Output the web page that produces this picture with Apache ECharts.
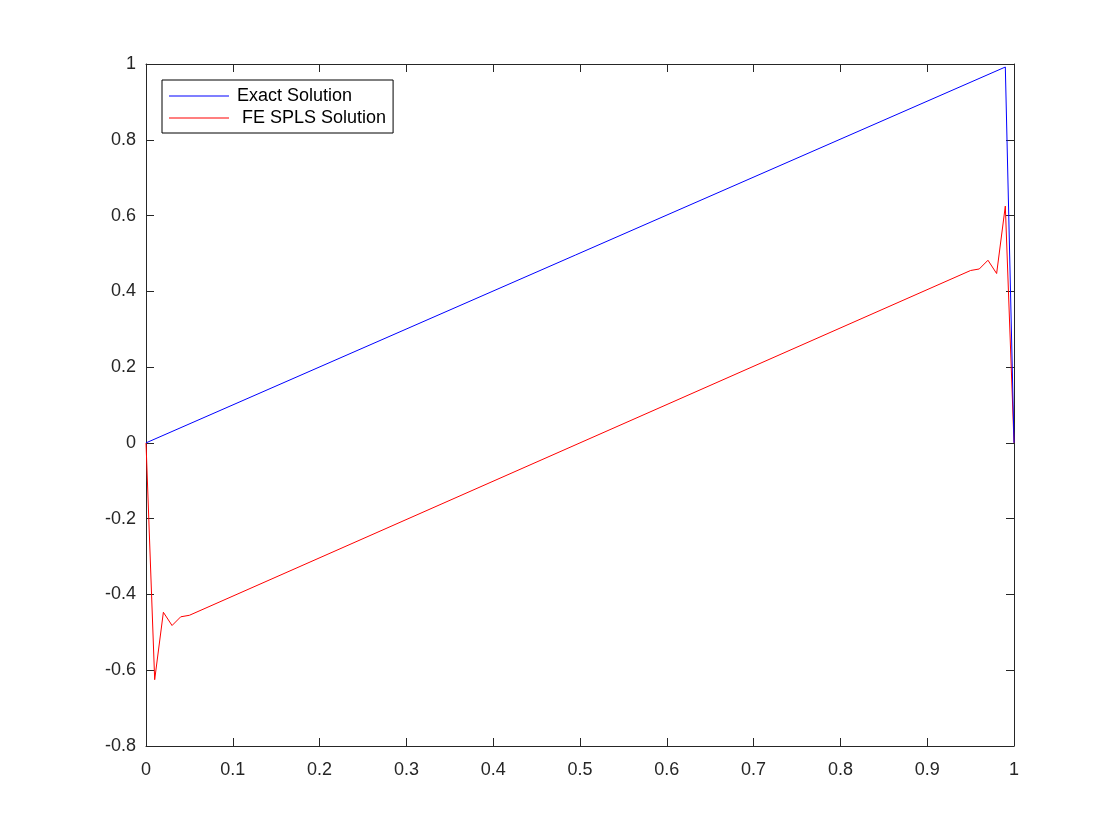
<!DOCTYPE html>
<html>
<head>
<meta charset="utf-8">
<script src="https://cdn.jsdelivr.net/npm/echarts@6/dist/echarts.min.js"></script>
<style>
  html, body { margin: 0; padding: 0; background: #ffffff; }
  #chart { width: 1120px; height: 840px; }
</style>
</head>
<body>
<div id="chart"></div>
<script>
  // exact solution: breakpoints (x, y)
  const exactX = [0, 0.99, 1];
  const exactY = [0, 0.992, 0];
  // FE SPLS solution: breakpoints
  const feX = [0, 0.01, 0.02, 0.03, 0.04, 0.05, 0.95, 0.96, 0.97, 0.98, 0.99, 1];
  const feY = [0, -0.625, -0.447, -0.482, -0.459, -0.455, 0.455, 0.459, 0.482, 0.447, 0.625, 0];
  const xTicks = [0, 0.1, 0.2, 0.3, 0.4, 0.5, 0.6, 0.7, 0.8, 0.9, 1];
  const yTicks = [-0.8, -0.6, -0.4, -0.2, 0, 0.2, 0.4, 0.6, 0.8, 1];

  const pairs = (xs, ys) => xs.map((x, i) => [x, ys[i]]);
  const axisColor = '#262626';
  const font = "'Liberation Sans', Arial, Helvetica, sans-serif";

  const myChart = echarts.init(document.getElementById('chart'));

  const xBase = {
    type: 'value',
    min: 0, max: 1, interval: 0.1,
    axisLine: { show: true, onZero: false, lineStyle: { color: axisColor, width: 1 } },
    axisTick: { show: true, inside: true, length: 8, lineStyle: { color: axisColor } },
    splitLine: { show: false }
  };
  const yBase = {
    type: 'value',
    min: -0.8, max: 1, interval: 0.2,
    axisLine: { show: true, onZero: false, lineStyle: { color: axisColor, width: 1 } },
    axisTick: { show: true, inside: true, length: 8, lineStyle: { color: axisColor } },
    splitLine: { show: false }
  };

  const option = {
    backgroundColor: '#ffffff',
    animation: false,
    grid: { left: 146, right: 106, top: 64, bottom: 94 },
    legend: {
      left: 162, top: 80,
      orient: 'vertical',
      icon: 'rect',
      itemWidth: 60, itemHeight: 1, itemGap: 4,
      padding: [7, 7, 6, 7],
      borderColor: '#000000', borderWidth: 1,
      backgroundColor: '#ffffff',
      textStyle: { color: '#000000', fontSize: 18, fontFamily: font, padding: [0, 0, 0, 3] },
      data: ['Exact Solution', ' FE SPLS Solution']
    },
    xAxis: [
      Object.assign({}, xBase, {
        position: 'bottom',
        axisLabel: {
          color: axisColor, fontSize: 18, fontFamily: font, margin: 15,
          formatter: v => {
            const r = Math.round(v * 10) / 10;
            return xTicks.includes(r) ? String(r) : '';
          }
        }
      }),
      Object.assign({}, xBase, { position: 'top', axisLabel: { show: false } })
    ],
    yAxis: [
      Object.assign({}, yBase, {
        position: 'left',
        axisLabel: {
          color: axisColor, fontSize: 18, fontFamily: font, margin: 10,
          formatter: v => {
            const r = Math.round(v * 10) / 10;
            return yTicks.includes(r) ? String(r) : '';
          }
        }
      }),
      Object.assign({}, yBase, { position: 'right', axisLabel: { show: false } })
    ],
    series: [
      {
        name: 'Exact Solution',
        type: 'line',
        data: pairs(exactX, exactY),
        symbol: 'none',
        lineStyle: { color: '#0000ff', width: 1 },
        itemStyle: { color: '#0000ff' },
        z: 3
      },
      {
        name: ' FE SPLS Solution',
        type: 'line',
        data: pairs(feX, feY),
        symbol: 'none',
        lineStyle: { color: '#ff0000', width: 1 },
        itemStyle: { color: '#ff0000' },
        z: 2
      }
    ]
  };

  myChart.setOption(option);
</script>
</body>
</html>
